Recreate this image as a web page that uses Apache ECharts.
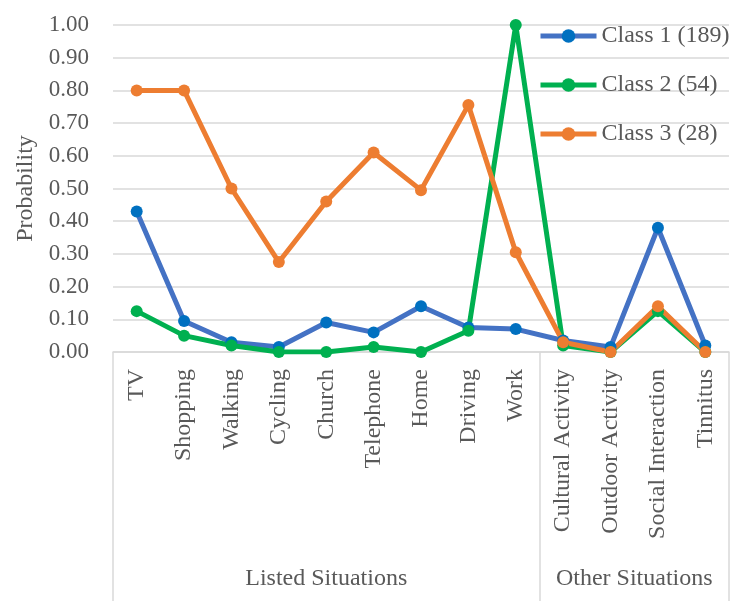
<!DOCTYPE html>
<html>
<head>
<meta charset="utf-8">
<script src="https://cdn.jsdelivr.net/npm/echarts@6/dist/echarts.min.js"></script>
<style>
  html, body { margin: 0; padding: 0; background: #fff; }
  #chart { width: 731px; height: 601px; }
</style>
</head>
<body>
<div id="chart"></div>
<script>
// Situations in which each latent class reports difficulty
var categories = ['TV', 'Shopping', 'Walking', 'Cycling', 'Church', 'Telephone', 'Home',
  'Driving', 'Work', 'Cultural Activity', 'Outdoor Activity', 'Social Interaction', 'Tinnitus'];

var class1 = [0.43, 0.095, 0.03, 0.015, 0.09, 0.06, 0.14, 0.075, 0.07, 0.035, 0.015, 0.38, 0.02];
var class2 = [0.125, 0.05, 0.02, 0.0, 0.0, 0.015, 0.0, 0.065, 1.0, 0.02, 0.0, 0.125, 0.0];
var class3 = [0.80, 0.80, 0.50, 0.275, 0.46, 0.61, 0.495, 0.755, 0.305, 0.03, 0.0, 0.14, 0.0];

var seriesNames = ['Class 1 (189)', 'Class 2 (54)', 'Class 3 (28)'];

// Category groups: first index of each group and its caption
var groupStarts = [0, 9];
var groupNames = ['Listed Situations', 'Other Situations'];

var FONT = '"Liberation Serif", "Times New Roman", serif';
var TEXT = '#595959';
var RULE = '#d9d9d9';
var BAND = (731 - 113 - 2) / categories.length;

function groupEnd(g) {
  return g + 1 < groupStarts.length ? groupStarts[g + 1] : categories.length;
}
function groupOf(i) {
  var g = 0;
  for (var k = 0; k < groupStarts.length; k++) if (i >= groupStarts[k]) g = k;
  return g;
}
// caption sits on the middle category of each group
function groupLabelIndex(g) {
  return Math.floor((groupStarts[g] + groupEnd(g) - 1) / 2);
}

var chart = echarts.init(document.getElementById('chart'), null, { renderer: 'canvas' });

function lineSeries(name, data, lineColor, markerColor) {
  return {
    name: name,
    type: 'line',
    data: data,
    symbol: 'circle',
    symbolSize: 12,
    lineStyle: { color: lineColor, width: 5 },
    itemStyle: { color: markerColor },
    emphasis: { disabled: true },
    animation: false
  };
}

chart.setOption({
  backgroundColor: '#ffffff',
  animation: false,
  grid: { left: 113, right: 2, top: 25, bottom: 249, containLabel: false },
  legend: {
    orient: 'vertical',
    left: 533,
    top: 19,
    itemWidth: 56,
    itemHeight: 17,
    itemGap: 25,
    lineStyle: { width: 5 },
    textStyle: { fontFamily: FONT, fontSize: 24, color: TEXT },
    data: seriesNames
  },
  xAxis: [
    {
      type: 'category',
      data: categories,
      boundaryGap: true,
      axisLine: { show: true, lineStyle: { color: RULE, width: 1.5 } },
      axisTick: { show: false },
      axisLabel: {
        rotate: 90,
        interval: 0,
        margin: 17,
        fontFamily: FONT,
        fontSize: 24,
        color: TEXT
      }
    },
    {
      type: 'category',
      data: categories,
      position: 'bottom',
      boundaryGap: true,
      axisLine: { show: false },
      axisTick: {
        show: true,
        length: 260,
        interval: function (i) {
          return groupStarts.indexOf(i) >= 0 || i >= categories.length;
        },
        lineStyle: { color: RULE, width: 1.5 }
      },
      axisLabel: {
        interval: 0,
        margin: 215,
        fontFamily: FONT,
        fontSize: 24,
        color: TEXT,
        formatter: function (v, i) {
          var g = groupOf(i);
          if (i !== groupLabelIndex(g)) return '';
          var even = (groupEnd(g) - groupStarts[g]) % 2 === 0;
          return even ? '{shift|' + groupNames[g] + '}' : groupNames[g];
        },
        rich: {
          // even-sized group: move caption half a band right onto the group centre
          shift: { fontFamily: FONT, fontSize: 24, color: TEXT, padding: [0, 0, 0, BAND] }
        }
      }
    }
  ],
  yAxis: {
    type: 'value',
    min: 0,
    max: 1,
    interval: 0.1,
    name: 'Probability',
    nameLocation: 'middle',
    nameRotate: 90,
    nameGap: 72,
    nameTextStyle: { fontFamily: FONT, fontSize: 24, color: TEXT },
    axisLine: { show: false },
    axisTick: { show: false },
    splitLine: { show: true, lineStyle: { color: RULE, width: 1.5 } },
    axisLabel: {
      margin: 24,
      fontFamily: FONT,
      fontSize: 23,
      color: TEXT,
      formatter: function (v) { return v.toFixed(2); }
    }
  },
  series: [
    lineSeries(seriesNames[0], class1, '#4472C4', '#0070C0'),
    lineSeries(seriesNames[1], class2, '#00B050', '#00B050'),
    lineSeries(seriesNames[2], class3, '#ED7D31', '#ED7D31')
  ]
});
</script>
</body>
</html>
